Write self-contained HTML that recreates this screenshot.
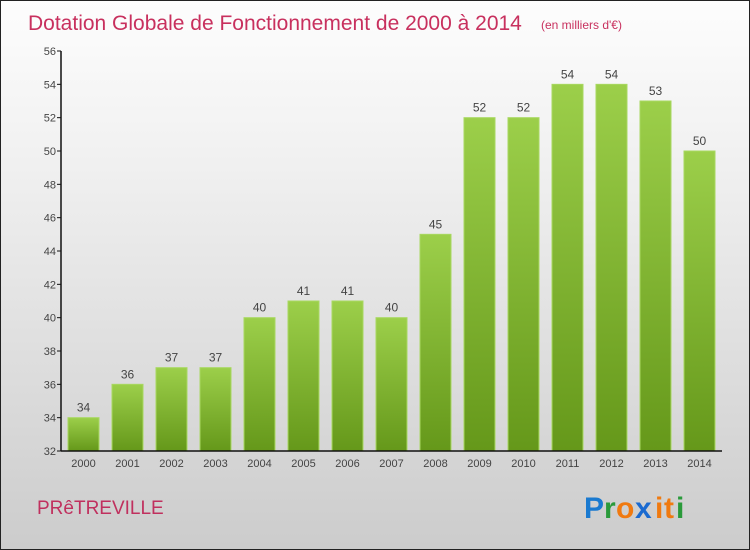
<!DOCTYPE html>
<html><head><meta charset="utf-8"><style>
body{margin:0}
#c{width:750px;height:550px;position:relative;box-sizing:border-box;border:1px solid #222;background:linear-gradient(#fdfdfd,#f0f0f0 30%,#cccccc);font-family:"Liberation Sans",sans-serif;overflow:hidden}
</style></head><body>
<div id="c">
<svg width="750" height="550" style="position:absolute;left:0;top:0">
<defs><linearGradient id="g" x1="0" y1="0" x2="0" y2="1"><stop offset="0" stop-color="#9ccf4a"/><stop offset="1" stop-color="#65981a"/></linearGradient></defs>
<text x="27" y="29" font-size="21" fill="#c8305e">Dotation Globale de Fonctionnement de 2000 à 2014</text>
<text x="540" y="28" font-size="12" fill="#c8305e">(en milliers d'€)</text>
<g id="bars"></g>
<g id="axes"></g>
<text x="36" y="513" font-size="19" fill="#c0305e">PRêTREVILLE</text>
<g font-size="30" font-weight="bold" font-family="'Liberation Sans',sans-serif">
<text x="583" y="517" fill="#1a7ad0">P</text><text x="603" y="517" fill="#2a9a3a">r</text><text x="615" y="517" fill="#f07a10">o</text><text x="634" y="517" fill="#1a6ad0">x</text><text x="654" y="517" fill="#f07a10">i</text><text x="663" y="517" fill="#f07a10">t</text><text x="675" y="517" fill="#2a9a3a">i</text>
</g>
</svg>
</div>
<script>
const years=["2000","2001","2002","2003","2004","2005","2006","2007","2008","2009","2010","2011","2012","2013","2014"];
const values=[34,36,37,37,40,41,41,40,45,52,52,54,54,53,50];
const yTicks=[32,34,36,38,40,42,44,46,48,50,52,54,56];
const NS="http://www.w3.org/2000/svg";
const y0=450,y1=50,vmin=32,vmax=56;
const ys=v=>y0-(v-vmin)/(vmax-vmin)*(y0-y1);
const xs=i=>67+i*44;
const bars=document.getElementById('bars'),axes=document.getElementById('axes');
function mk(p,tag,a){const e=document.createElementNS(NS,tag);for(const k in a)e.setAttribute(k,a[k]);p.appendChild(e);return e;}
values.forEach((v,i)=>{
 const r=mk(bars,'rect',{x:xs(i),y:ys(v),width:31,height:y0-ys(v),fill:'url(#g)',stroke:'#a8d860','stroke-width':1});
 
 
 const t=mk(bars,'text',{x:xs(i)+15.5,y:ys(v)-6,'text-anchor':'middle','font-size':12,fill:'#444'});
 t.textContent=v;
 
 
 const xl=mk(axes,'text',{x:xs(i)+15.5,y:466,'text-anchor':'middle','font-size':11,fill:'#444'});
 xl.textContent=years[i];
 
 
});
const ya=mk(axes,'line',{x1:60,y1:y1,x2:60,y2:y0,stroke:'#111','stroke-width':1.5});


const xa=mk(axes,'line',{x1:60,y1:y0,x2:721,y2:y0,stroke:'#111','stroke-width':1.5});


yTicks.forEach(v=>{
 mk(axes,'line',{x1:56,y1:ys(v),x2:60,y2:ys(v),stroke:'#111'});
 const t=mk(axes,'text',{x:55,y:ys(v)+4,'text-anchor':'end','font-size':11,fill:'#444'});
 t.textContent=v;
 
 
});
</script>
</body></html>
